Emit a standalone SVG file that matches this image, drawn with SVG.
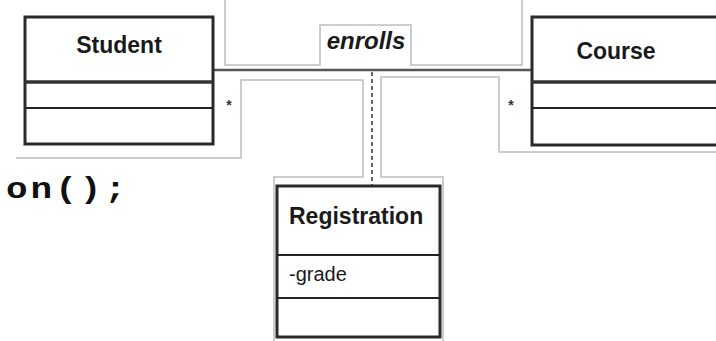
<svg xmlns="http://www.w3.org/2000/svg" width="716" height="341" viewBox="0 0 716 341">
<style>
.box{fill:#fff;stroke:#2a2a2a;stroke-width:3}
.div1{stroke:#333;stroke-width:3.5}
.div2{stroke:#222;stroke-width:2}
.grey{fill:none;stroke:#bdbdbd;stroke-width:1.5}
.name{font-family:"Liberation Sans",Arial,sans-serif;font-weight:bold;font-size:23px;fill:#1a1a1a}
.attr{font-family:"Liberation Sans",Arial,sans-serif;font-size:20px;fill:#1a1a1a}
.mult{font-family:"Liberation Sans",Arial,sans-serif;font-weight:bold;font-size:14px;fill:#333}
</style>
<rect width="716" height="341" fill="#fff"/>
<g id="frames">
<polyline class="grey" points="225,0 225,65 320,65 320,25 411,25 411,65 522,65 522,0"/>
<polyline class="grey" points="16,158 241,158 241,80 363,80 363,177 274,177 274,341"/>
<polyline class="grey" points="716,152 499,152 499,77 381,77 381,177 443,177 443,341"/>
</g>
<g id="connectors">
<line x1="213" y1="70" x2="532" y2="70" stroke="#555" stroke-width="2.5"/>
<line x1="372" y1="72" x2="372" y2="186" stroke="#666" stroke-width="2" stroke-dasharray="4,3"/>
<text class="mult" x="229" y="110" text-anchor="middle">*</text>
<text class="mult" x="511" y="110" text-anchor="middle">*</text>
<text x="366" y="49" text-anchor="middle" font-family="'Liberation Sans',Arial,sans-serif" font-weight="bold" font-style="italic" font-size="24" fill="#1a1a1a">enrolls</text>
</g>
<g id="student">
<rect class="box" x="25" y="17" width="188" height="127"/>
<line class="div1" x1="25" y1="82" x2="213" y2="82"/>
<line class="div2" x1="25" y1="108" x2="213" y2="108"/>
<text class="name" x="119" y="53" text-anchor="middle">Student</text>
</g>
<g id="course">
<rect class="box" x="532" y="17" width="200" height="128"/>
<line class="div1" x1="532" y1="82" x2="716" y2="82"/>
<line class="div2" x1="532" y1="108" x2="716" y2="108"/>
<text class="name" x="616" y="59" text-anchor="middle">Course</text>
</g>
<g id="registration">
<rect class="box" x="277" y="186" width="163" height="151"/>
<line class="div2" x1="277" y1="255" x2="440" y2="255"/>
<line class="div2" x1="277" y1="298" x2="440" y2="298"/>
<text class="name" x="289" y="224" font-size="24">Registration</text>
<text class="attr" x="289" y="281">-grade</text>
</g>
<g id="code">
<text x="6" y="241" transform="scale(1,0.82)" font-family="'Liberation Mono','Courier New',monospace" font-weight="bold" font-size="36" letter-spacing="3" fill="#111">on();</text>
</g>
</svg>
